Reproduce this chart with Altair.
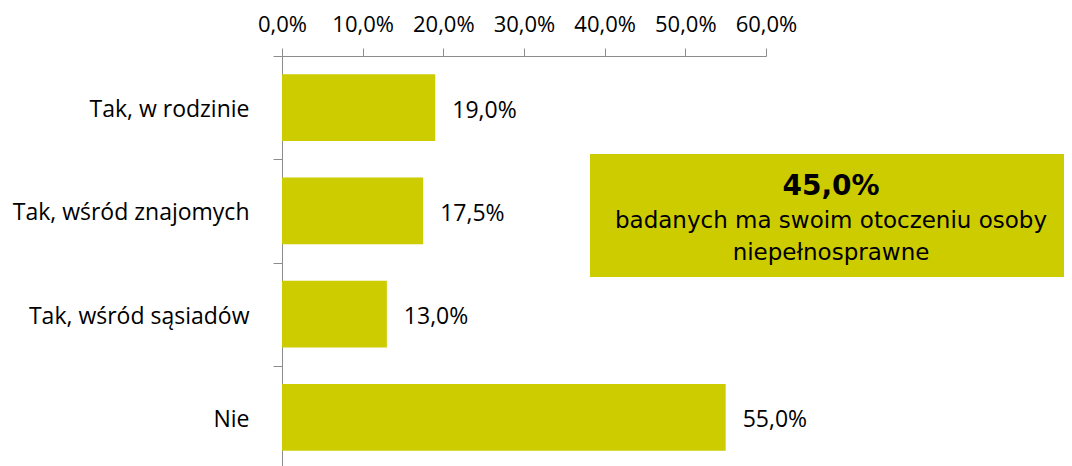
import altair as alt
import pandas as pd

categories = ["Tak, w rodzinie", "Tak, wśród znajomych", "Tak, wśród sąsiadów", "Nie"]
values = [19.0, 17.5, 13.0, 55.0]
x_ticks = [0, 10, 20, 30, 40, 50, 60]
box_title = ["45,0%"]
box_lines = ["badanych ma swoim otoczeniu osoby", "niepełnosprawne"]

BAR = "#CCCC00"
FONT = "Open Sans"
BOX_FONT = "DejaVu Sans"

df = pd.DataFrame({
    "cat": categories,
    "val": values,
    "lab": [f"{v:.1f}".replace(".", ",") + "%" for v in values],
})

x_enc = alt.X(
    "val:Q",
    scale=alt.Scale(domain=[0, 60], nice=False),
    axis=alt.Axis(
        orient="top", values=x_ticks, title=None, grid=False,
        labelExpr="replace(format(datum.value, '.1f'), '.', ',') + '%'",
        domainColor="#8c8c8c", tickColor="#8c8c8c", tickSize=8,
        labelFont=FONT, labelFontSize=22, labelColor="#000000",
        labelBaseline="alphabetic", labelPadding=17, labelFlush=False,
    ),
)
y_enc = alt.Y(
    "cat:N", sort=None,
    scale=alt.Scale(paddingInner=0, paddingOuter=0, range=[0, 413]),
    axis=alt.Axis(
        title=None, tickBand="extent", domainColor="#8c8c8c", tickColor="#8c8c8c",
        tickSize=9, labelFont=FONT, labelFontSize=23, labelColor="#000000",
        labelPadding=24, labelBaseline="alphabetic", labelOffset=9, labelLimit=400,
    ),
)

bars = alt.Chart(df).mark_bar(color=BAR, height=alt.RelativeBandSize(0.645)).encode(x=x_enc, y=y_enc)
labels = alt.Chart(df).mark_text(
    align="left", baseline="alphabetic", dx=17, dy=10, font=FONT, fontSize=23, color="#000000"
).encode(x="val:Q", y=alt.Y("cat:N", sort=None), text="lab:N")

box_df = pd.DataFrame({"t": box_title})
box = alt.Chart(box_df).mark_rect(color=BAR).encode(
    x=alt.value(308), x2=alt.value(792), y=alt.value(98), y2=alt.value(221)
)
title_txt = alt.Chart(box_df).mark_text(
    align="center", baseline="alphabetic", font=BOX_FONT, fontSize=28, fontWeight="bold", color="#000000"
).encode(x=alt.value(549), y=alt.value(139), text="t:N")
line1 = alt.Chart(pd.DataFrame({"t": [box_lines[0]]})).mark_text(
    align="center", baseline="alphabetic", font=BOX_FONT, fontSize=23, color="#000000"
).encode(x=alt.value(549), y=alt.value(172), text="t:N")
line2 = alt.Chart(pd.DataFrame({"t": [box_lines[1]]})).mark_text(
    align="center", baseline="alphabetic", font=BOX_FONT, fontSize=23, color="#000000"
).encode(x=alt.value(549), y=alt.value(204), text="t:N")

chart = alt.layer(bars, labels, box, title_txt, line1, line2).properties(
    width=484, height=410,
    autosize=alt.AutoSizeParams(type="none"),
    padding={"left": 274, "top": 48, "right": 298, "bottom": 0},
    background="white",
).configure_view(strokeWidth=0)

chart.save("out.html", embed_options={"renderer": "svg", "actions": False})
